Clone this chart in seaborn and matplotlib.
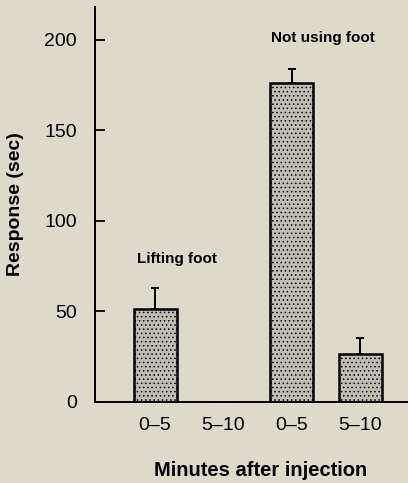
import matplotlib
matplotlib.use("Agg")
import matplotlib.pyplot as plt
import seaborn as sns
import pandas as pd
import numpy as np

# Data
conditions = ["Lifting foot 0-5", "Lifting foot 5-10", "Not using foot 0-5", "Not using foot 5-10"]
tick_labels = ["0\u20135", "5\u201310", "0\u20135", "5\u201310"]
response = [51, 0, 176, 26]
sem = [12, 0, 8, 9]
group_labels = ["Lifting foot", "Not using foot"]

sns.set_theme(style="ticks")
plt.rcParams["font.family"] = ["Liberation Sans", "DejaVu Sans"]
plt.rcParams["text.color"] = "black"
plt.rcParams["axes.labelcolor"] = "black"
plt.rcParams["hatch.linewidth"] = 0.6

bg = "#dddacc"
fig = plt.figure(figsize=(4.08, 4.83), dpi=100, facecolor=bg)
ax = fig.add_axes([0.233, 0.1687, 0.767, 0.8168])
ax.set_facecolor(bg)

df = pd.DataFrame({"condition": conditions, "response": response, "sem": sem})
x = np.arange(len(conditions))

ax.errorbar(x, df["response"], yerr=[np.zeros(len(sem)), df["sem"]],
            fmt="none", ecolor="black", elinewidth=1.4, capsize=3, capthick=1.4, zorder=1)
sns.barplot(data=df, x="condition", y="response", order=conditions, ax=ax,
            color="#c0bdb3", saturation=1, width=0.63, edgecolor="black",
            linewidth=1.8, errorbar=None, zorder=2)
for p in ax.patches:
    p.set_hatch("....")

ax.set_xlim(-0.878, 3.70)
ax.set_ylim(0, 218)
ax.set_yticks([0, 50, 100, 150, 200])
ax.set_xticks(x)
ax.set_xticklabels(tick_labels)

ax.tick_params(axis="y", direction="in", length=7.5, width=1.3, pad=13,
               labelsize=14, colors="black")
ax.tick_params(axis="x", length=0, pad=11, labelsize=14, colors="black")

for s in ["top", "right"]:
    ax.spines[s].set_visible(False)
for s in ["left", "bottom"]:
    ax.spines[s].set_linewidth(1.4)
    ax.spines[s].set_color("black")

ax.set_ylabel("Response (sec)", fontsize=14, fontweight="bold")
ax.yaxis.set_label_coords(-0.228, 0.5)
ax.set_xlabel("Minutes after injection", fontsize=14.5, fontweight="bold")
ax.xaxis.set_label_coords(0.53, -0.152)

ax.text(0.315, 78.7, group_labels[0], ha="center", va="center", fontsize=11, fontweight="bold")
ax.text(2.46, 200.8, group_labels[1], ha="center", va="center", fontsize=11, fontweight="bold")

fig.savefig("out.png", dpi=100, facecolor=bg)
